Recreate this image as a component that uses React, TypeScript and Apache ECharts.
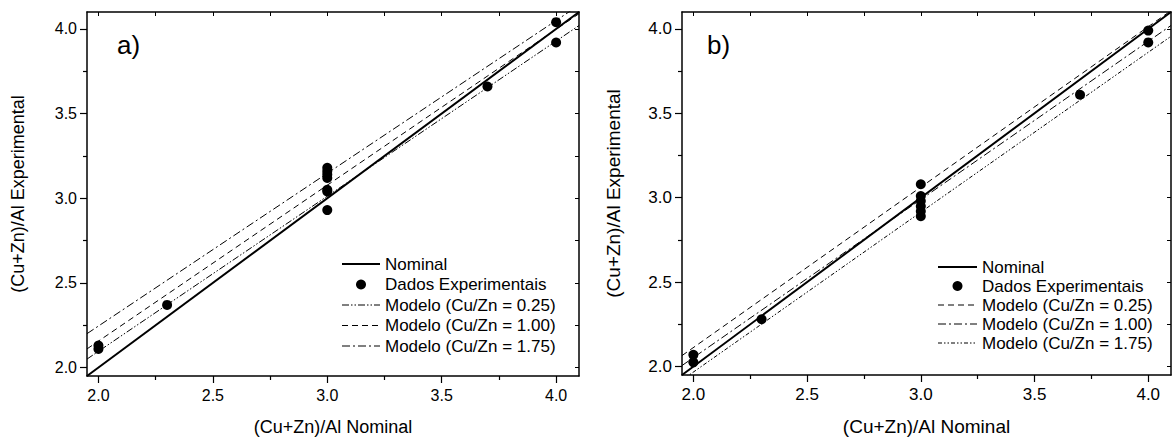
import React, { useEffect, useRef } from "react";
import * as echarts from "echarts";

// ---- data ----
const AXIS_MIN = 1.95;
const AXIS_MAX = 4.1;
const majorTicks = [2.0, 2.5, 3.0, 3.5, 4.0];
const minorTicks = [2.25, 2.75, 3.25, 3.75];
const allTicks = [2.0, 2.25, 2.5, 2.75, 3.0, 3.25, 3.5, 3.75, 4.0];

const lineEndsX = [1.95, 4.1];
const nominalY = [1.95, 4.1];

// panel a)
const aExpX = [2.0, 2.0, 2.3, 3.0, 3.0, 3.0, 3.0, 3.0, 3.0, 3.0, 3.7, 4.0, 4.0];
const aExpY = [2.11, 2.13, 2.37, 3.18, 3.16, 3.14, 3.12, 3.05, 3.04, 2.93, 3.66, 4.04, 3.92];
const aModel025Y = [2.05, 4.02];
const aModel100Y = [2.11, 4.09];
const aModel175Y = [2.2, 4.14];

// panel b)
const bExpX = [2.0, 2.0, 2.3, 3.0, 3.0, 3.0, 3.0, 3.0, 3.0, 3.7, 4.0, 4.0];
const bExpY = [2.07, 2.025, 2.28, 3.08, 3.01, 2.98, 2.95, 2.92, 2.89, 3.61, 3.99, 3.92];
const bModel025Y = [2.065, 4.108];
const bModel100Y = [2.006, 4.02];
const bModel175Y = [1.92, 3.956];

const legendLabels = [
  "Nominal",
  "Dados Experimentais",
  "Modelo (Cu/Zn = 0.25)",
  "Modelo (Cu/Zn = 1.00)",
  "Modelo (Cu/Zn = 1.75)",
];
const xTitle = "(Cu+Zn)/Al Nominal";
const yTitle = "(Cu+Zn)/Al Experimental";

// ---- styles ----
const FONT = '"Liberation Sans", Arial, sans-serif';
const DASH_DDOT = [7, 2, 1.5, 2, 1.5, 2];
const DASH = [6, 4];
const DASH_DOT = [8, 3, 2, 3];
const DOTTED = [4, 2, 1.5, 2, 1.5, 2];

const pairs = (xs: number[], ys: number[]) => xs.map((x, i) => [x, ys[i]]);

function axesFor(grid: number, tickFont: number, titleFont: number, yGap: number) {
  const base = { type: "value", min: AXIS_MIN, max: AXIS_MAX, gridIndex: grid, splitLine: { show: false } };
  const line = { show: true, lineStyle: { color: "#000", width: 1.5 } };
  const x = [
    {
      ...base,
      position: "bottom",
      axisLine: { ...line, onZero: false },
      axisTick: { show: true, inside: false, length: 7, customValues: majorTicks, lineStyle: { color: "#000", width: 1.2 } },
      axisLabel: { show: true, customValues: majorTicks, margin: 11, fontSize: tickFont, fontFamily: FONT, color: "#000", formatter: (v: number) => v.toFixed(1) },
      name: xTitle,
      nameLocation: "middle",
      nameGap: 42,
      nameTextStyle: { fontSize: titleFont, fontFamily: FONT, color: "#000" },
    },
    {
      ...base,
      position: "bottom",
      axisLine: { show: false, onZero: false },
      axisTick: { show: true, inside: false, length: 4, customValues: minorTicks, lineStyle: { color: "#000", width: 1.2 } },
      axisLabel: { show: false },
    },
    {
      ...base,
      position: "top",
      axisLine: { ...line, onZero: false },
      axisTick: { show: true, inside: true, length: 4, customValues: allTicks, lineStyle: { color: "#000", width: 1 } },
      axisLabel: { show: false },
    },
  ];
  const y = [
    {
      ...base,
      position: "left",
      axisLine: { ...line, onZero: false },
      axisTick: { show: true, inside: false, length: 7, customValues: majorTicks, lineStyle: { color: "#000", width: 1.2 } },
      axisLabel: { show: true, customValues: majorTicks, margin: 10, fontSize: tickFont, fontFamily: FONT, color: "#000", formatter: (v: number) => v.toFixed(1) },
      name: yTitle,
      nameLocation: "middle",
      nameGap: yGap,
      nameRotate: 90,
      nameTextStyle: { fontSize: titleFont, fontFamily: FONT, color: "#000" },
    },
    {
      ...base,
      position: "left",
      axisLine: { show: false, onZero: false },
      axisTick: { show: true, inside: false, length: 4, customValues: minorTicks, lineStyle: { color: "#000", width: 1.2 } },
      axisLabel: { show: false },
    },
    {
      ...base,
      position: "right",
      axisLine: { ...line, onZero: false },
      axisTick: { show: true, inside: true, length: 4, customValues: allTicks, lineStyle: { color: "#000", width: 1 } },
      axisLabel: { show: false },
    },
  ];
  return { x, y };
}

function seriesFor(ai: number, expX: number[], expY: number[], m025: number[], m100: number[], m175: number[], dashes: number[][]) {
  const common = { type: "line", xAxisIndex: ai, yAxisIndex: ai, showSymbol: false, symbol: "none", clip: true, silent: true };
  return [
    { ...common, name: legendLabels[0], data: pairs(lineEndsX, nominalY), lineStyle: { color: "#000", width: 2 } },
    { ...common, name: legendLabels[2], data: pairs(lineEndsX, m025), lineStyle: { color: "#000", width: 1, type: dashes[0] } },
    { ...common, name: legendLabels[3], data: pairs(lineEndsX, m100), lineStyle: { color: "#000", width: 1, type: dashes[1] } },
    { ...common, name: legendLabels[4], data: pairs(lineEndsX, m175), lineStyle: { color: "#000", width: 1, type: dashes[2] } },
    {
      type: "scatter",
      name: legendLabels[1],
      xAxisIndex: ai,
      yAxisIndex: ai,
      symbol: "circle",
      symbolSize: 10,
      itemStyle: { color: "#000", opacity: 1 },
      data: pairs(expX, expY),
      z: 5,
    },
  ];
}

function legendGraphic(x1: number, x2: number, tx: number, rows: number[], dashes: number[][], fontSize: number) {
  const els: any[] = [];
  const styles = [null, "dot", dashes[0], dashes[1], dashes[2]];
  legendLabels.forEach((label, i) => {
    const y = rows[i];
    const s = styles[i];
    if (s === null) {
      els.push({ type: "line", shape: { x1, y1: y, x2, y2: y }, style: { stroke: "#000", lineWidth: 2 } });
    } else if (s === "dot") {
      els.push({ type: "circle", shape: { cx: (x1 + x2) / 2, cy: y, r: 5 }, style: { fill: "#000" } });
    } else {
      els.push({ type: "line", shape: { x1, y1: y, x2, y2: y }, style: { stroke: "#000", lineWidth: 1, lineDash: s } });
    }
    els.push({
      type: "text",
      x: tx,
      y,
      style: { text: label, fontSize, fontFamily: FONT, fill: "#000", align: "left", verticalAlign: "middle" },
    });
  });
  return els;
}

export default function App() {
  const ref = useRef<HTMLDivElement>(null);
  useEffect(() => {
    if (!ref.current) return;
    const chart = echarts.init(ref.current, undefined, { renderer: "svg" });
    const a = axesFor(0, 16, 18, 60);
    const b = axesFor(1, 17, 19, 59);
    const dashesA = [DASH_DDOT, DASH, DASH_DOT];
    const dashesB = [DASH, DASH_DOT, DOTTED];
    chart.setOption({
      animation: false,
      backgroundColor: "#fff",
      grid: [
        { left: 87, right: 1173 - 579, top: 12, bottom: 441 - 377, containLabel: false },
        { left: 682, right: 1173 - 1171, top: 12, bottom: 441 - 377, containLabel: false },
      ],
      xAxis: [...a.x, ...b.x.map((ax) => ({ ...ax, gridIndex: 1 }))],
      yAxis: [...a.y, ...b.y.map((ax) => ({ ...ax, gridIndex: 1 }))],
      series: [
        ...seriesFor(0, aExpX, aExpY, aModel025Y, aModel100Y, aModel175Y, dashesA),
        ...seriesFor(3, bExpX, bExpY, bModel025Y, bModel100Y, bModel175Y, dashesB),
      ],
      graphic: [
        { type: "text", x: 117, y: 45, style: { text: "a)", fontSize: 26, fontFamily: FONT, fill: "#000", verticalAlign: "middle" } },
        { type: "text", x: 707, y: 45, style: { text: "b)", fontSize: 26, fontFamily: FONT, fill: "#000", verticalAlign: "middle" } },
        ...legendGraphic(342, 380, 385, [264, 284.5, 305, 325.5, 346], dashesA, 17),
        ...legendGraphic(938, 977, 982, [267, 286, 305, 324, 343], dashesB, 17),
      ],
    });
    return () => chart.dispose();
  }, []);
  return <div ref={ref} style={{ position: "fixed", left: 0, top: 0, width: 1173, height: 441 }} />;
}
